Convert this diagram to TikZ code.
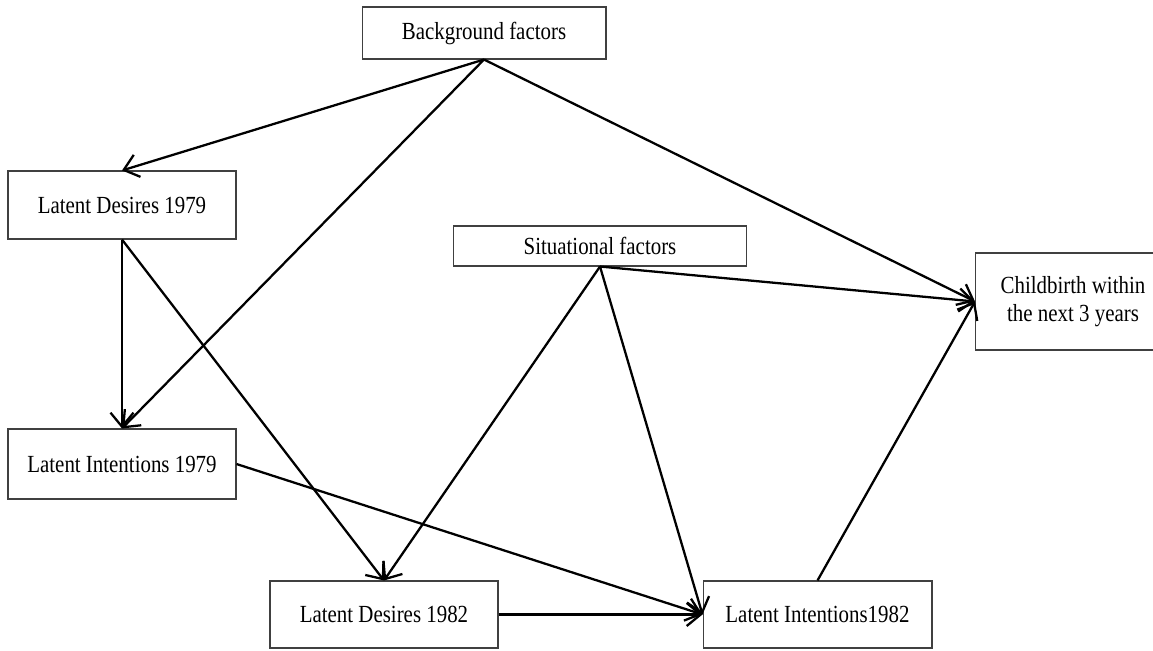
\documentclass[tikz,border=0pt]{standalone}
\usepackage{fontspec}
\setmainfont[FakeStretch=0.85]{Liberation Serif}
\usetikzlibrary{arrows.meta}
\begin{document}
\begin{tikzpicture}[x=0.02cm,y=-0.02cm]
\tikzset{
    caja/.style={draw=black!75, line width=0.6pt, align=center, inner sep=0pt,
      font=\fontsize{14}{16}\selectfont},
    flecha/.style={line width=1.3pt, -{Straight Barb[length=2.8mm,width=4.6mm]}}
}
\useasboundingbox (0,0) rectangle (1153,650);
\node[caja, minimum width=4.88cm, minimum height=1.04cm] (fondo) at (484,33) {Background factors};
\node[caja, minimum width=4.56cm, minimum height=1.36cm] (des79) at (122,205) {Latent Desires 1979};
\node[caja, minimum width=5.86cm, minimum height=0.80cm] (situ) at (600,246) {Situational factors};
\node[caja, minimum width=3.90cm, minimum height=1.94cm] (parto) at (1073,301.5) {Childbirth within\\the next 3 years};
\node[caja, minimum width=4.56cm, minimum height=1.40cm] (int79) at (122,464) {Latent Intentions 1979};
\node[caja, minimum width=4.56cm, minimum height=1.34cm] (des82) at (384,614.5) {Latent Desires 1982};
\node[caja, minimum width=4.58cm, minimum height=1.34cm] (int82) at (817.5,614.5) {Latent Intentions1982};
% flechas
\draw[flecha] (fondo.south) -- (des79.north);
\draw[flecha] (fondo.south) -- (int79.north);
\draw[flecha] (fondo.south) -- (parto.west);
\draw[flecha] (des79.south) -- (int79.north);
\draw[flecha] (des79.south) -- (des82.north);
\draw[flecha] (situ.south) -- (des82.north);
\draw[flecha] (situ.south) -- (int82.west);
\draw[flecha] (situ.south) -- (parto.west);
\draw[flecha] (int79.east) -- (int82.west);
\draw[flecha] (des82.east) -- (int82.west);
\draw[flecha] (int82.north) -- (parto.west);
\end{tikzpicture}
\end{document}
